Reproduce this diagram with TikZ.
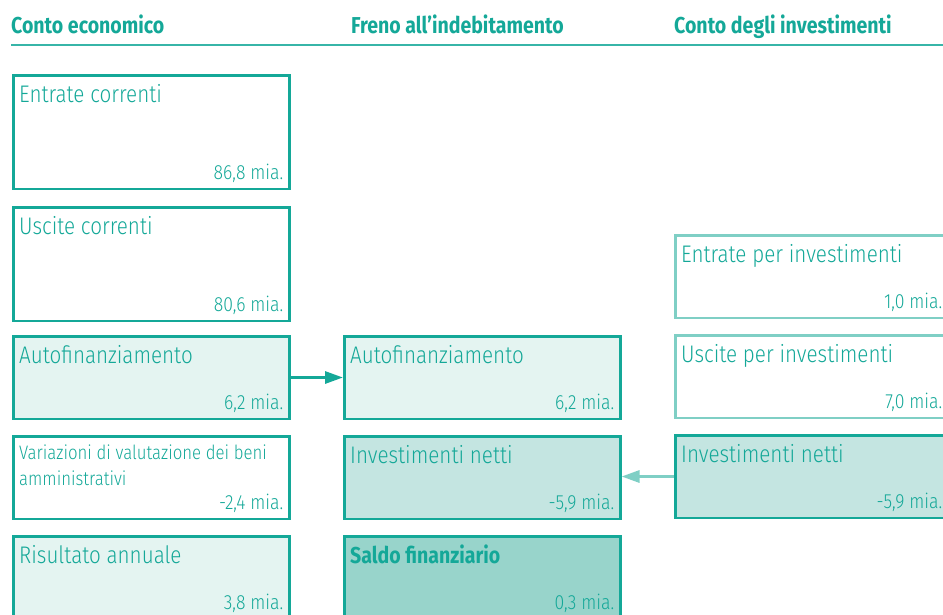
\documentclass[tikz,border=0pt]{standalone}
\usepackage{fontspec}
\usetikzlibrary{arrows.meta}
\IfFontExistsTF{Fira Sans Light}
  {\newfontfamily\boxfont{Fira Sans Light}[FakeStretch=0.86]}
  {\newfontfamily\boxfont{Fira Sans}[FakeStretch=0.86]}
\newfontfamily\headfont{Fira Sans}[FakeStretch=0.85]
\definecolor{tealdark}{HTML}{14A898}
\definecolor{teallight}{HTML}{7FCFC5}
\definecolor{fillA}{HTML}{E4F4F1}
\definecolor{fillB}{HTML}{C4E5E1}
\definecolor{fillC}{HTML}{98D4CB}
\begin{document}
\begin{tikzpicture}[x=1pt,y=-1pt,
    box/.style={draw=tealdark,line width=2.5pt,inner sep=0pt,anchor=north west,
      minimum width=276pt,minimum height=82.5pt},
    tall/.style={minimum height=113.5pt},
    pale/.style={draw=teallight},
    lbl/.style={anchor=base west,inner sep=0pt,xshift=7pt,yshift=-28pt,
      text=tealdark,font=\boxfont\fontsize{24}{28}\selectfont},
    small/.style={font=\boxfont\fontsize{19.5}{25.7}\selectfont,align=left},
    val/.style={anchor=base east,inner sep=0pt,xshift=-7pt,yshift=10.5pt,
      text=tealdark,font=\boxfont\fontsize{20.5}{24}\selectfont},
    edgeval/.style={val,xshift=-3pt},
    head/.style={anchor=base west,inner sep=0pt,text=tealdark,
      font=\headfont\bfseries\fontsize{23}{26}\selectfont}]
  \useasboundingbox (0,0) rectangle (943,614);
  \clip (0,0) rectangle (943,614);
  % column titles
  \draw
    (11,33) node[head] (h1){Conto economico}
    (351,33) node[head] (h2){Freno all’indebitamento}
    (674,33) node[head] (h3){Conto degli investimenti};
  \draw[tealdark!85,line width=2pt] (11,45) -- (943,45);
  % boxes
  \draw
    (12,74) node[box,tall] (ce1){}
    (12,206) node[box,tall] (ce2){}
    (12,335) node[box,fill=fillA] (ce3){}
    (12,435) node[box] (ce4){}
    (12,535) node[box,fill=fillA] (ce5){}
    (343,335) node[box,fill=fillA] (fi1){}
    (343,435) node[box,fill=fillB] (fi2){}
    (343,535) node[box,fill=fillC] (fi3){}
    (674,234) node[box,pale] (ci1){}
    (674,334) node[box,pale] (ci2){}
    (674,434) node[box,fill=fillB] (ci3){};
  % texts
  \node[lbl] at (ce1.north west) {Entrate correnti};
  \node[val] at (ce1.south east) {86,8 mia.};
  \node[lbl] at (ce2.north west) {Uscite correnti};
  \node[val] at (ce2.south east) {80,6 mia.};
  \node[lbl] at (ce3.north west) {Autofinanziamento};
  \node[val] at (ce3.south east) {6,2 mia.};
  \node[lbl,small,yshift=-22pt] at (ce4.north west) {Variazioni di valutazione dei beni\\amministrativi};
  \node[val] at (ce4.south east) {-2,4 mia.};
  \node[lbl] at (ce5.north west) {Risultato annuale};
  \node[val] at (ce5.south east) {3,8 mia.};
  \node[lbl] at (fi1.north west) {Autofinanziamento};
  \node[val] at (fi1.south east) {6,2 mia.};
  \node[lbl] at (fi2.north west) {Investimenti netti};
  \node[val] at (fi2.south east) {-5,9 mia.};
  \node[lbl,font=\headfont\bfseries\fontsize{23}{26}\selectfont] at (fi3.north west) {Saldo finanziario};
  \node[val] at (fi3.south east) {0,3 mia.};
  \node[lbl] at (ci1.north west) {Entrate per investimenti};
  \node[edgeval] at (ci1.south east) {1,0 mia.};
  \node[lbl] at (ci2.north west) {Uscite per investimenti};
  \node[edgeval] at (ci2.south east) {7,0 mia.};
  \node[lbl] at (ci3.north west) {Investimenti netti};
  \node[edgeval] at (ci3.south east) {-5,9 mia.};
  % transfers
  \begin{scope}[-{Triangle[length=18pt,width=12pt]},line width=3pt]
    \draw[tealdark] (ce3) to (fi1);
    \draw[teallight] (ci3.west) to (ci3.west -| fi2.east);
  \end{scope}
\end{tikzpicture}
\end{document}
